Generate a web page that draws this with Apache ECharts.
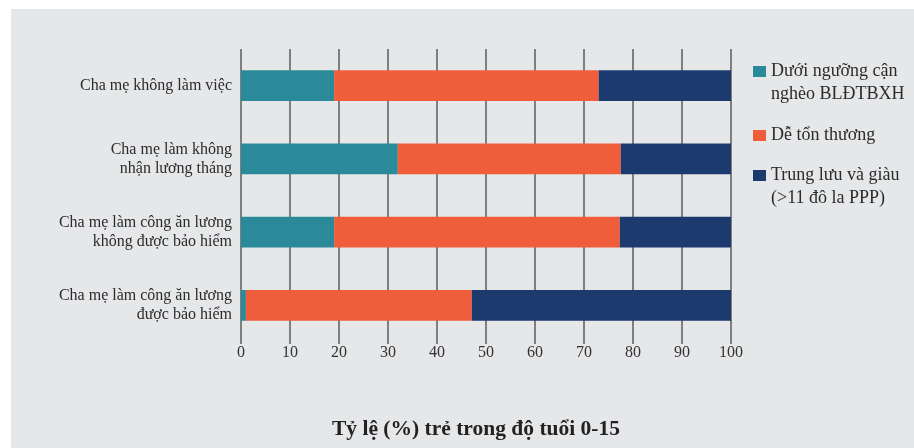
<!DOCTYPE html>
<html>
<head>
<meta charset="utf-8">
<script src="https://cdn.jsdelivr.net/npm/echarts@6/dist/echarts.min.js"></script>
<style>
  html, body { margin: 0; padding: 0; background: #ffffff; }
  #chart { width: 914px; height: 448px; }
</style>
</head>
<body>
<div id="chart"></div>
<script>
// Categories, listed top to bottom
const categories = [
  'Cha mẹ không làm việc',
  'Cha mẹ làm không\nnhận lương tháng',
  'Cha mẹ làm công ăn lương\nkhông được bảo hiểm',
  'Cha mẹ làm công ăn lương\nđược bảo hiểm'
];

// Share of children (%) in each group
const belowNearPoor = [19, 32, 19, 1];
const vulnerable = [54, 45.5, 58.3, 46.1];
const middleAndRich = [27, 22.5, 22.7, 52.9];

const seriesNames = [
  'Dưới ngưỡng cận\nnghèo BLĐTBXH',
  'Dễ tổn thương',
  'Trung lưu và giàu\n(>11 đô la PPP)'
];
const seriesColors = ['#2a8a99', '#f05d3b', '#1d3a6e'];

const xTicks = [0, 10, 20, 30, 40, 50, 60, 70, 80, 90, 100];
const xTitle = 'Tỷ lệ (%) trẻ trong độ tuổi 0-15';

const serif = '"Liberation Serif", "DejaVu Serif", serif';
const gridColor = '#7f7f7f';

const chart = echarts.init(document.getElementById('chart'), null, { renderer: 'canvas' });

// Legend swatch sits beside the first text line; for two-line entries the
// icon box is made taller, with the square at its top.
const squareTop = 'path://M0,0h13v11h-13z';
const squareTopTall = 'path://M0,0h13v11h-13z M0,34h0.01v0.01h-0.01z';

function legendAt(name, top, multiLine) {
  return {
    data: [name],
    left: 753,
    top: top,
    padding: 0,
    orient: 'vertical',
    icon: multiLine ? squareTopTall : squareTop,
    itemWidth: 13,
    itemHeight: multiLine ? 34 : 11,
    selectedMode: false,
    textStyle: {
      fontFamily: serif,
      fontSize: 18,
      color: '#2b2b2b',
      lineHeight: 23
    }
  };
}

const allSeries = [belowNearPoor, vulnerable, middleAndRich].map((values, i) => ({
  name: seriesNames[i],
  type: 'bar',
  stack: 'total',
  data: values,
  barWidth: '42%',
  itemStyle: { color: seriesColors[i] },
  emphasis: { disabled: true }
}));

chart.setOption({
  backgroundColor: '#ffffff',
  animation: false,
  graphic: [{
    type: 'rect',
    z: -10,
    silent: true,
    shape: { x: 11, y: 9, width: 914 - 11, height: 448 - 9 },
    style: { fill: '#e6e7e9' }
  }, {
    type: 'text',
    x: 476,
    y: 429,
    style: {
      text: xTitle,
      font: 'bold 21.5px ' + serif,
      fill: '#222222',
      align: 'center',
      verticalAlign: 'middle'
    }
  }],
  legend: [
    legendAt(seriesNames[0], 60, true),
    legendAt(seriesNames[1], 124, false),
    legendAt(seriesNames[2], 164, true)
  ],
  grid: {
    left: 241,
    right: 914 - 731,
    top: 49,
    height: 293,
    containLabel: false
  },
  xAxis: {
    type: 'value',
    min: xTicks[0],
    max: xTicks[xTicks.length - 1],
    interval: 10,
    axisLine: { show: false },
    axisTick: { show: true, length: 2, lineStyle: { color: gridColor, width: 2 } },
    splitLine: { show: true, lineStyle: { color: gridColor, width: 2 } },
    axisLabel: {
      fontFamily: serif,
      fontSize: 16,
      color: '#333333',
      margin: 3,
      formatter: v => (xTicks.includes(v) ? String(v) : '')
    }
  },
  yAxis: {
    type: 'category',
    inverse: true,
    data: categories,
    axisLine: { show: false },
    axisTick: { show: false },
    axisLabel: {
      fontFamily: serif,
      fontSize: 16,
      lineHeight: 19,
      color: '#2b2b2b',
      margin: 9,
      align: 'right'
    }
  },
  series: allSeries
});
</script>
</body>
</html>
